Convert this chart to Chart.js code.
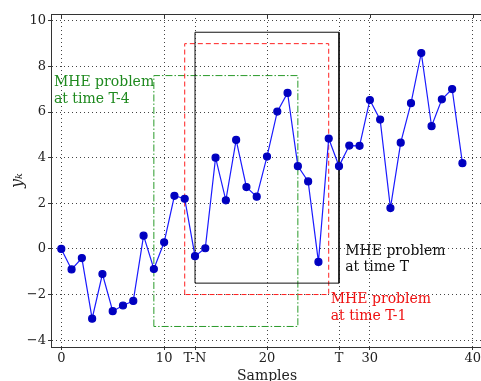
<!DOCTYPE html>
<html>
<head>
<meta charset="utf-8">
<script src="https://cdn.jsdelivr.net/npm/chart.js@4"></script>
<style>
  html, body { margin: 0; padding: 0; background: #fff; overflow: hidden; }
</style>
</head>
<body>
<canvas id="mhe" width="490" height="381"></canvas>
<script>
// measured samples y_k, k = 0..39
const samples = [...Array(40).keys()]
const yk = [
  0.0, -0.9, -0.4, -3.06, -1.1, -2.73, -2.48, -2.28, 0.58, -0.88,
  0.29, 2.33, 2.2, -0.32, 0.03, 4.0, 2.13, 4.78, 2.71, 2.29,
  4.05, 6.02, 6.84, 3.63, 2.96, -0.57, 4.84, 3.63, 4.53, 4.52,
  6.53, 5.67, 1.79, 4.66, 6.39, 8.59, 5.38, 6.56, 7.01, 3.76,
]

const xTickValues = [0, 10, 13, 20, 27, 30, 40]
const xTickLabels = ['0', '10', 'T-N', '20', 'T', '30', '40']
const yTickValues = [-4, -2, 0, 2, 4, 6, 8, 10]

// estimation windows: [xFrom, xTo, yFrom, yTo]
const windowT = [13, 27, -1.5, 9.5]
const windowT1 = [12, 26, -2, 9]
const windowT4 = [9, 23, -3.4, 7.6]

// labels: [x, y of first line]
const labelT = { lines: ['MHE problem', 'at time T'], at: [27.6, -0.1], color: '#111' }
const labelT1 = { lines: ['MHE problem', 'at time T-1'], at: [26.2, -2.22], color: '#ee1111' }
const labelT4 = { lines: ['MHE problem', 'at time T-4'], at: [-0.72, 7.29], color: '#1f8a1f' }

const serif = 'DejaVu Serif, serif'

function boxPath(w) {
  const [x0, x1, y0, y1] = w
  return [{ x: x0, y: y0 }, { x: x0, y: y1 }, { x: x1, y: y1 }, { x: x1, y: y0 }, { x: x0, y: y0 }]
}

function boxDataset(w, color, dash) {
  return {
    data: boxPath(w),
    borderColor: color,
    borderWidth: 1,
    borderDash: dash,
    pointRadius: 0,
    fill: false,
    tension: 0,
  }
}

const annotations = {
  id: 'annotations',
  afterDatasetsDraw(chart) {
    const { ctx, chartArea, scales: { x, y } } = chart
    ctx.save()
    ctx.font = '14px ' + serif
    ctx.textBaseline = 'middle'
    ctx.textAlign = 'left'
    for (const lab of [labelT, labelT1, labelT4]) {
      ctx.fillStyle = lab.color
      const px = x.getPixelForValue(lab.at[0])
      const py = y.getPixelForValue(lab.at[1])
      lab.lines.forEach((line, i) => ctx.fillText(line, px, py + i * 16.6))
    }
    // top spine with inward ticks
    ctx.strokeStyle = '#333'
    ctx.lineWidth = 1
    ctx.beginPath()
    ctx.moveTo(chartArea.left, chartArea.top + 0.5)
    ctx.lineTo(chartArea.right, chartArea.top + 0.5)
    for (const v of [0, 10, 20, 30, 40]) {
      const px = Math.round(x.getPixelForValue(v)) + 0.5
      ctx.moveTo(px, chartArea.top)
      ctx.lineTo(px, chartArea.top + 4)
    }
    ctx.stroke()
    ctx.restore()
  },
}

const gridStyle = {
  color: '#444',
  tickLength: 3,
  tickColor: '#333',
  tickBorderDash: [],
}

new Chart(document.getElementById('mhe'), {
  type: 'line',
  data: {
    datasets: [
      {
        data: samples.map((k, i) => ({ x: k, y: yk[i] })),
        borderColor: '#1a1aff',
        borderWidth: 1.2,
        pointRadius: 3.5,
        pointBackgroundColor: '#0000c0',
        pointBorderColor: '#0000c0',
        tension: 0,
      },
      boxDataset(windowT, '#111', []),
      boxDataset(windowT1, '#ff2020', [5, 3]),
      boxDataset(windowT4, '#2a9a2a', [7, 2, 1.5, 2]),
    ],
  },
  options: {
    responsive: false,
    animation: false,
    devicePixelRatio: 1,
    layout: { padding: { top: 14, right: 7, bottom: 0, left: 0 } },
    plugins: { legend: { display: false }, tooltip: { enabled: false } },
    scales: {
      x: {
        type: 'linear',
        min: -1,
        max: 41,
        afterBuildTicks: (scale) => { scale.ticks = xTickValues.map(v => ({ value: v })) },
        afterFit: (scale) => { scale.height = 34 },
        ticks: {
          autoSkip: false,
          maxRotation: 0,
          padding: 1,
          color: '#222',
          font: { family: serif, size: 13 },
          callback: (v) => xTickLabels[xTickValues.indexOf(v)],
        },
        grid: gridStyle,
        border: { display: true, color: '#333', width: 1, dash: [1, 3] },
        title: {
          display: true,
          text: 'Samples',
          color: '#222',
          font: { family: serif, size: 14 },
          padding: { top: 0, bottom: -4 },
        },
      },
      y: {
        type: 'linear',
        min: -4.3,
        max: 10.3,
        afterBuildTicks: (scale) => { scale.ticks = yTickValues.map(v => ({ value: v })) },
        afterFit: (scale) => { scale.width = 51 },
        ticks: {
          padding: 2,
          color: '#222',
          font: { family: serif, size: 13 },
          callback: (v) => (v < 0 ? '\u2212' + Math.abs(v) : String(v)),
        },
        grid: gridStyle,
        border: { display: true, color: '#333', width: 1, dash: [1, 3] },
        title: {
          display: true,
          text: 'y\u2096',
          color: '#222',
          font: { family: serif, size: 16, style: 'italic' },
          padding: { top: 8, bottom: 0 },
        },
      },
    },
  },
  plugins: [annotations],
})
</script>
</body>
</html>
